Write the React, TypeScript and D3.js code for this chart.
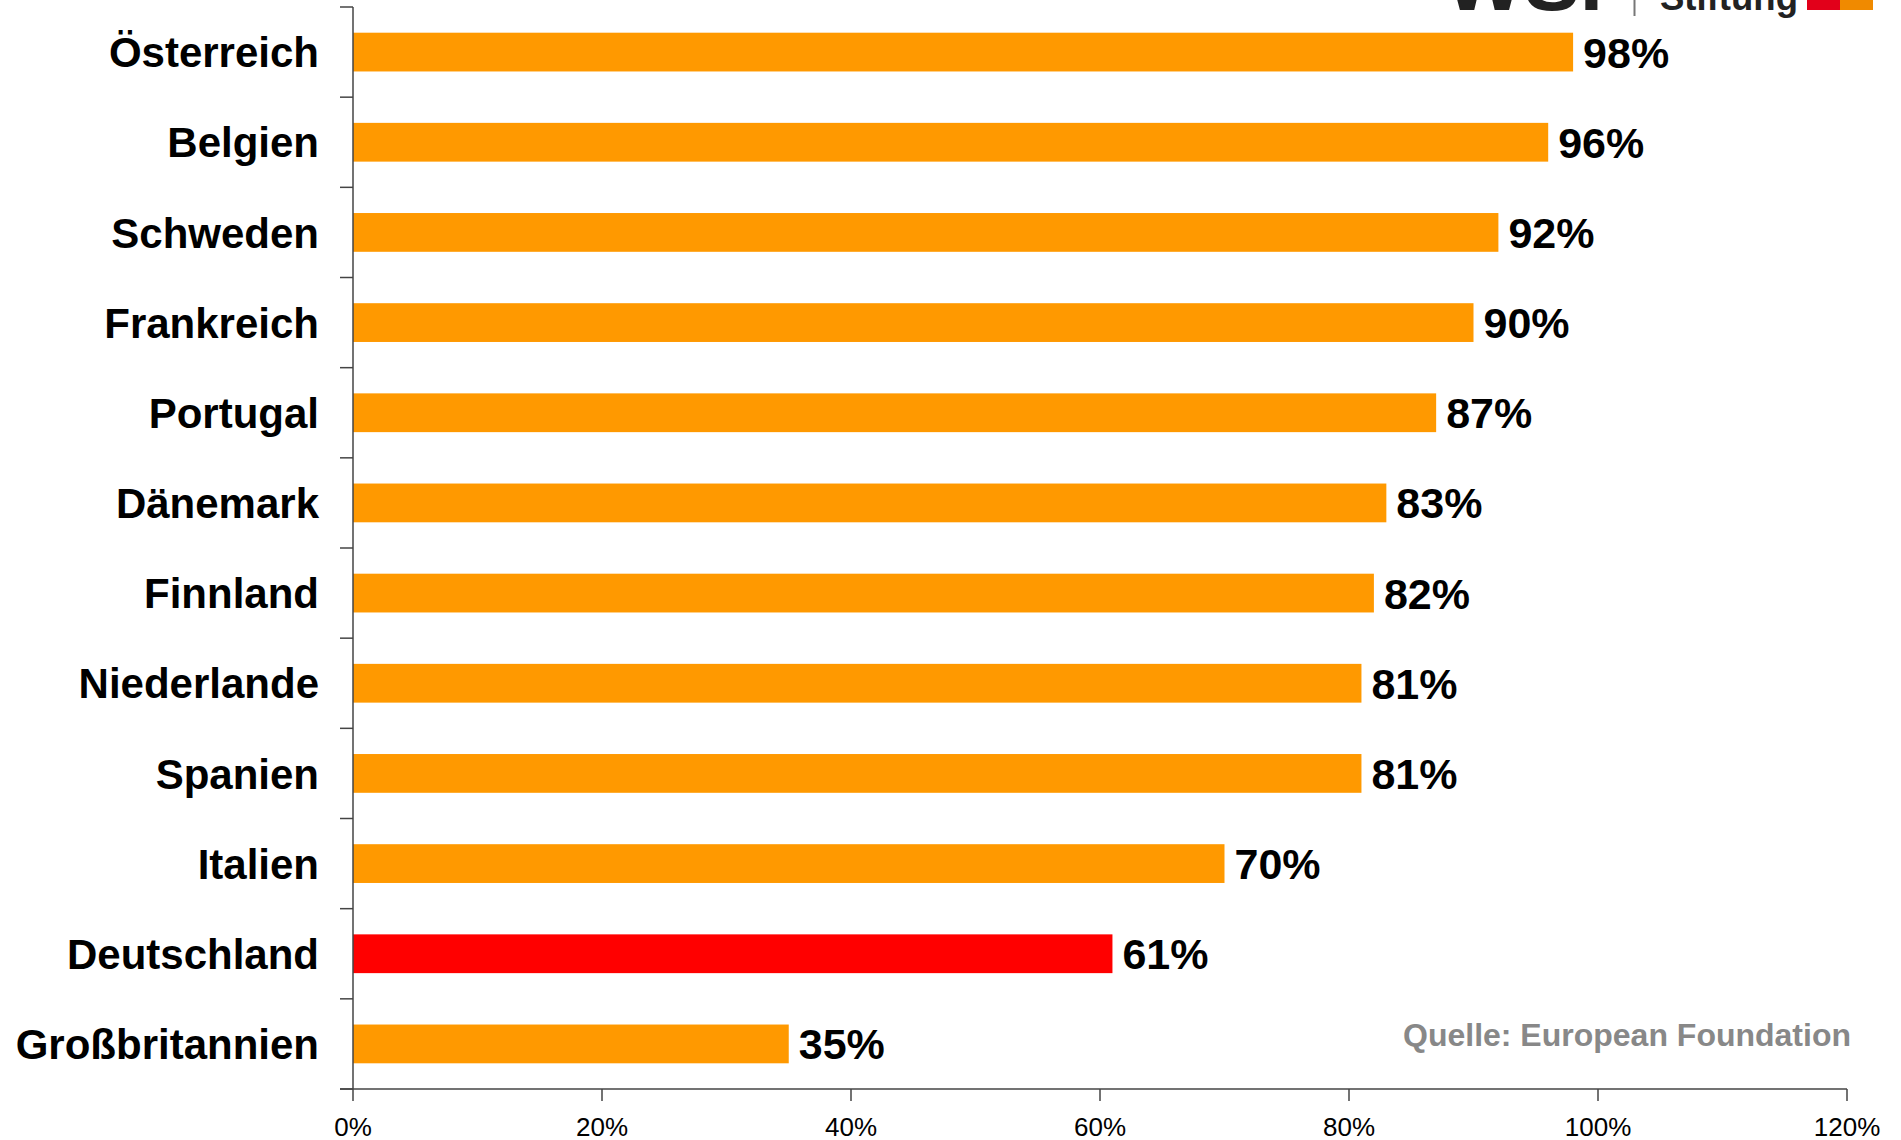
import React from "react";
import * as d3 from "d3";

const categories = [
  "Österreich",
  "Belgien",
  "Schweden",
  "Frankreich",
  "Portugal",
  "Dänemark",
  "Finnland",
  "Niederlande",
  "Spanien",
  "Italien",
  "Deutschland",
  "Großbritannien",
];
const values = [98, 96, 92, 90, 87, 83, 82, 81, 81, 70, 61, 35];
const highlight = ["Deutschland"];
const xTicks = [0, 20, 40, 60, 80, 100, 120];
const sourceText = "Quelle: European Foundation";

const W = 1901;
const H = 1140;
const FONT = "'Liberation Sans', Arial, Helvetica, sans-serif";

export default function App() {
  const x = d3.scaleLinear().domain([0, 120]).range([353, 1847]);
  const y = d3.scaleBand<string>().domain(categories).range([7, 1089]).padding(0);
  const bw = y.bandwidth();
  const bh = bw * 0.43;
  const axisColor = "#444";
  const boundaries = d3.range(categories.length + 1).map((i) => 7 + i * y.step());

  return (
    <svg
      width={W}
      height={H}
      style={{ position: "absolute", left: 0, top: 0, background: "#fff" }}
      fontFamily={FONT}
    >
      <rect x={0} y={0} width={W} height={H} fill="#fff" />
      {/* logo, cut off at top */}
      <g>
        <text x={1445} y={10} fontSize={82} fontWeight="bold" fill="#222" textLength={158} lengthAdjust="spacingAndGlyphs">
          WSI
        </text>
        <line x1={1634.5} x2={1634.5} y1={0} y2={16} stroke="#777" strokeWidth={2} />
        <text x={1660} y={10} fontSize={36} fontWeight="bold" fill="#222" textLength={138} lengthAdjust="spacingAndGlyphs">
          Stiftung
        </text>
        <rect x={1807} y={0} width={33} height={10} fill="#E2001A" />
        <rect x={1840} y={0} width={33} height={10} fill="#F08A00" />
      </g>

      {/* bars */}
      {categories.map((c, i) => {
        const yy = (y(c) as number) + (bw - bh) / 2;
        return (
          <g key={c}>
            <rect
              x={x(0)}
              y={yy}
              width={x(values[i]) - x(0)}
              height={bh}
              fill={highlight.includes(c) ? "#FF0000" : "#FF9900"}
            />
            <text
              x={x(values[i]) + 10}
              y={(y(c) as number) + bw / 2}
              dy="0.36em"
              fontSize={43}
              fontWeight="bold"
              fill="#000"
            >
              {values[i]}%
            </text>
            <text
              x={319}
              y={(y(c) as number) + bw / 2}
              dy="0.36em"
              fontSize={42}
              fontWeight="bold"
              textAnchor="end"
              fill="#000"
            >
              {c}
            </text>
          </g>
        );
      })}

      {/* y axis */}
      <line x1={353} x2={353} y1={7} y2={1089} stroke={axisColor} strokeWidth={1.5} />
      {boundaries.map((b, i) => (
        <line key={i} x1={340} x2={353} y1={b} y2={b} stroke={axisColor} strokeWidth={1.5} />
      ))}

      {/* x axis */}
      <line x1={340} x2={1847} y1={1089} y2={1089} stroke={axisColor} strokeWidth={1.5} />
      {xTicks.map((t) => (
        <g key={t}>
          <line x1={x(t)} x2={x(t)} y1={1089} y2={1101} stroke={axisColor} strokeWidth={1.5} />
          <text x={x(t)} y={1127} dy="0.36em" textAnchor="middle" fontSize={26} fill="#000">
            {t}%
          </text>
        </g>
      ))}

      {/* source */}
      <text x={1851} y={1034} dy="0.36em" textAnchor="end" fontSize={32} fontWeight="bold" fill="#888">
        {sourceText}
      </text>
    </svg>
  );
}
